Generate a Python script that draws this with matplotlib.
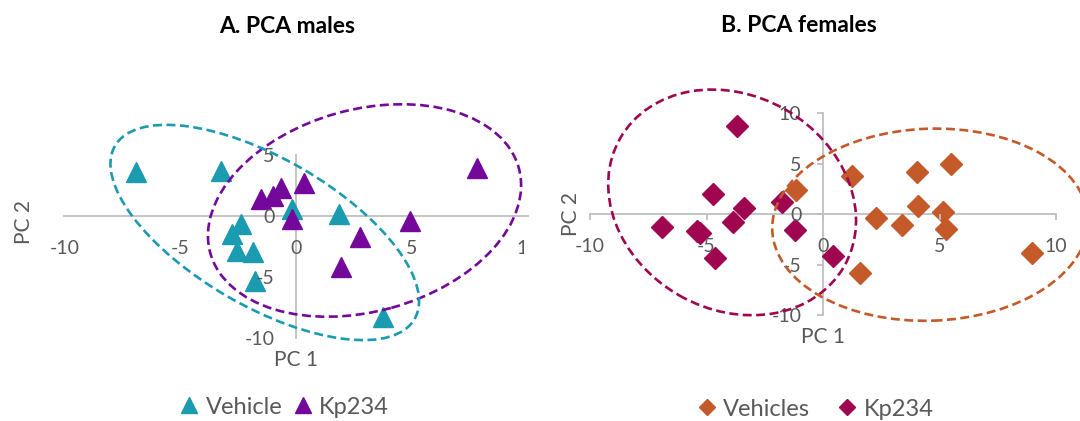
import matplotlib
matplotlib.use("Agg")

import matplotlib.pyplot as plt
from matplotlib.patches import Ellipse
from matplotlib.lines import Line2D
from matplotlib.transforms import ScaledTranslation, Bbox, TransformedBbox

plt.rcParams['font.family'] = ['Lato', 'DejaVu Sans']

# PCA scores, males
male_vehicle_pc1 = [-6.92, -3.24, -0.19, 1.86, -2.38, -2.76, -2.53, -1.87, -1.75, 3.74]
male_vehicle_pc2 = [3.57, 3.71, 0.57, 0.16, -0.65, -1.47, -2.84, -2.92, -5.29, -8.24]
male_kp_pc1 = [7.80, 0.33, -0.64, -1.01, -1.53, -0.19, 4.93, 2.78, 1.96]
male_kp_pc2 = [3.93, 2.67, 2.26, 1.66, 1.39, -0.25, -0.38, -1.75, -4.20]

# PCA scores, females
female_vehicle_pc1 = [-1.14, 1.24, 4.03, 5.51, 4.06, 2.28, 3.39, 5.17, 5.28, 1.58, 8.99]
female_vehicle_pc2 = [2.43, 3.83, 4.19, 5.02, 0.83, -0.33, -1.06, 0.20, -1.50, -5.82, -3.83]
female_kp_pc1 = [-3.70, -4.70, -3.39, -3.85, -6.93, -5.40, -5.30, -4.65, -1.76, -1.21, 0.42]
female_kp_pc2 = [8.75, 2.03, 0.60, -0.73, -1.23, -1.70, -1.82, -4.29, 1.26, -1.56, -4.13]

male_xticks = [-10, -5, 0, 5, 10]
male_yticks = [-10, -5, 0, 5]
female_xticks = [-10, -5, 0, 5, 10]
female_yticks = [-10, -5, 0, 5, 10]

# group ellipses: centre (PC1, PC2), semi-axes in pixels, angle in degrees
male_vehicle_ell = ((-1.35, -1.34), 173, 74, -30)
male_kp_ell = ((2.96, 0.46), 160, 101, 15.4)
female_vehicle_ell = ((4.6, -1.03), 158, 96, 2)
female_kp_ell = ((-3.90, 1.18), 129, 107, -29.8)

teal = '#1A9BB0'
purple = '#74089B'
orange = '#C4592A'
crimson = '#A0064F'
grey_txt = '#595959'
grey_ax = '#BFBFBF'

fig = plt.figure(figsize=(10.8, 4.21), dpi=100)
W, H = 1080, 421


def axes_px(left, top, right, bottom):
    return fig.add_axes([left / W, 1 - bottom / H, (right - left) / W, (bottom - top) / H])


def style(ax, xticks, yticks, ticklen, xpad, ypad):
    ax.set_xlim(xticks[0], xticks[-1])
    ax.set_ylim(yticks[0], yticks[-1])
    ax.patch.set_visible(False)
    for s in ['top', 'right']:
        ax.spines[s].set_visible(False)
    for s in ['left', 'bottom']:
        ax.spines[s].set_position(('data', 0))
        ax.spines[s].set_color(grey_ax)
        ax.spines[s].set_linewidth(1.3)
    ax.set_xticks(xticks)
    ax.set_yticks(yticks)
    ax.set_xticklabels([str(t) for t in xticks])
    ax.set_yticklabels([str(t) for t in yticks])
    ax.tick_params(colors=grey_ax, labelcolor=grey_txt, labelsize=14,
                   length=ticklen, width=1.3, direction='out')
    ax.tick_params(axis='x', pad=xpad)
    ax.tick_params(axis='y', pad=ypad)
    ax.xaxis.set_zorder(4)
    ax.yaxis.set_zorder(4)


def ellipse(ax, spec, color):
    (cx, cy), a, b, ang = spec
    tr = fig.dpi_scale_trans + ScaledTranslation(cx, cy, ax.transData)
    e = Ellipse((0, 0), 2 * a / 100, 2 * b / 100, angle=ang, transform=tr,
                fill=False, edgecolor=color, linewidth=1.9,
                linestyle=(0, (3.4, 1.7)), clip_on=False, zorder=5)
    ax.add_patch(e)


# A. males
ax1 = axes_px(64.5, 155, 527.5, 338.3)
style(ax1, male_xticks, male_yticks, 0, 17, 15.5)
ax1.plot(male_vehicle_pc1, male_vehicle_pc2, '^', color=teal, ms=14, zorder=3)
ax1.plot(male_kp_pc1, male_kp_pc2, '^', color=purple, ms=14, zorder=3)
ellipse(ax1, male_kp_ell, purple)
ellipse(ax1, male_vehicle_ell, teal)
# the "10" label runs past the chart edge
edge = TransformedBbox(Bbox.from_extents(0, 0, 524 / W, 1), fig.transFigure)
lab = ax1.xaxis.get_major_ticks()[-1].label1
lab.set_clip_box(edge)
lab.set_clip_on(True)

# B. females
ax2 = axes_px(590, 113.3, 1056, 315.3)
style(ax2, female_xticks, female_yticks, 4, 13, 11.5)
ax2.plot(female_vehicle_pc1, female_vehicle_pc2, 'D', color=orange, ms=10.7, zorder=3)
ax2.plot(female_kp_pc1, female_kp_pc2, 'D', color=crimson, ms=10.7, zorder=3)
ellipse(ax2, female_kp_ell, crimson)
ellipse(ax2, female_vehicle_ell, orange)

# titles and axis titles
fig.text(287.5 / W, 1 - 26.7 / H, 'A. PCA males', ha='center', va='center',
         fontsize=16.5, fontweight='bold', color='black')
fig.text(799 / W, 1 - 26 / H, 'B. PCA females', ha='center', va='center',
         fontsize=16.5, fontweight='bold', color='black')
fig.text(296 / W, 1 - 360 / H, 'PC 1', ha='center', va='center', fontsize=15, color=grey_txt)
fig.text(24 / W, 1 - 221.7 / H, 'PC 2', ha='center', va='center', rotation=90,
         fontsize=15, color=grey_txt)
fig.text(823.3 / W, 1 - 336.7 / H, 'PC 1', ha='center', va='center', fontsize=15, color=grey_txt)
fig.text(571 / W, 1 - 214 / H, 'PC 2', ha='center', va='center', rotation=90,
         fontsize=15, color=grey_txt)

# legends
h1 = [Line2D([], [], marker='^', ls='none', color=teal, ms=11),
      Line2D([], [], marker='^', ls='none', color=purple, ms=11)]
fig.legend(h1, ['Vehicle', 'Kp234'], loc='center', bbox_to_anchor=(285 / W, 1 - 407 / H),
           ncol=2, frameon=False, fontsize=17, labelcolor=grey_txt,
           handlelength=0.7, handletextpad=0.35, columnspacing=0.5, borderpad=0)
h2 = [Line2D([], [], marker='D', ls='none', color=orange, ms=8),
      Line2D([], [], marker='D', ls='none', color=crimson, ms=8)]
fig.legend(h2, ['Vehicles', 'Kp234'], loc='center', bbox_to_anchor=(816 / W, 1 - 409 / H),
           ncol=2, frameon=False, fontsize=17, labelcolor=grey_txt,
           handlelength=0.7, handletextpad=0.35, columnspacing=1.2, borderpad=0)

fig.savefig('out.png', dpi=100)
